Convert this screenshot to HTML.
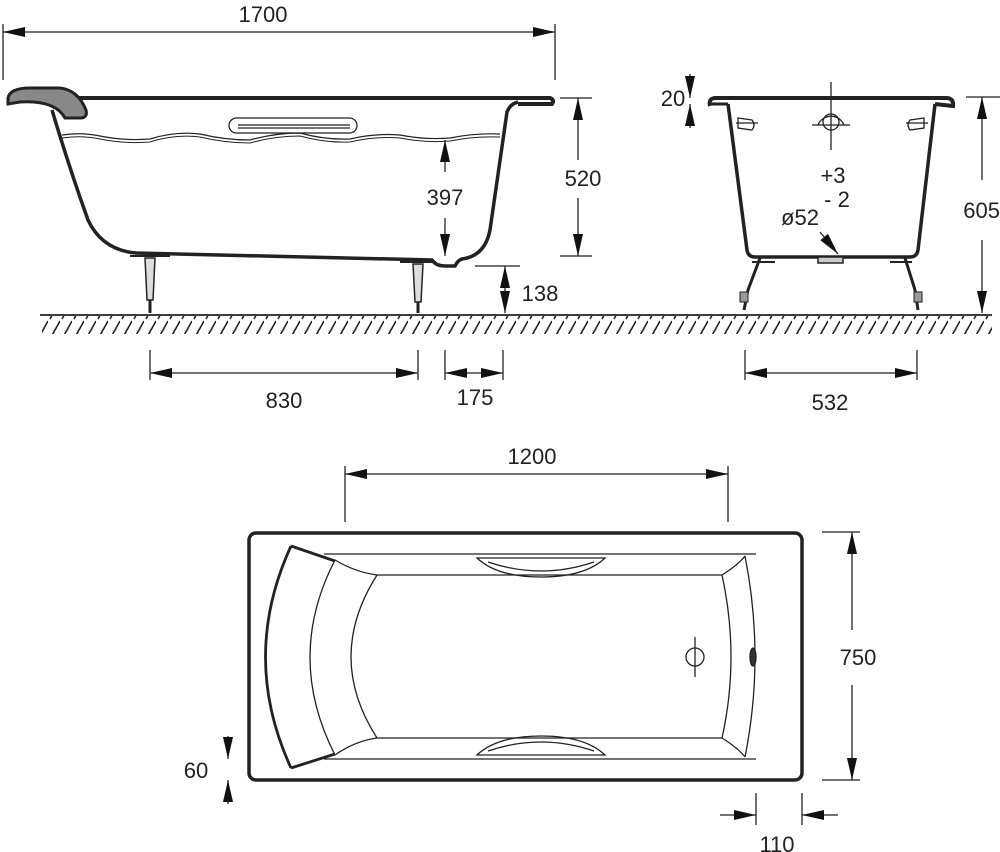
<!DOCTYPE html>
<html><head><meta charset="utf-8"><style>
html,body{margin:0;padding:0;background:#fff;}
svg{display:block;}
text{font-family:"Liberation Sans",Arial,sans-serif;font-size:22px;fill:#222;}
</style></head><body>
<svg width="1000" height="852" viewBox="0 0 1000 852" xmlns="http://www.w3.org/2000/svg">
<defs>
<marker id="a" viewBox="0 0 22 10" refX="22" refY="5" markerWidth="22" markerHeight="10" markerUnits="userSpaceOnUse" orient="auto-start-reverse">
<path d="M0,0 L22,5 L0,10 Z" fill="#111"/></marker>
<pattern id="h" width="12" height="20" patternUnits="userSpaceOnUse">
<line x1="2" y1="19" x2="12" y2="1" stroke="#222" stroke-width="1.6"/></pattern>
</defs>
<g stroke="#222" fill="none" stroke-width="1.3">
<!-- 1700 -->
<line x1="3" y1="32" x2="555" y2="32" marker-start="url(#a)" marker-end="url(#a)"/>
<line x1="3" y1="24" x2="3" y2="80"/><line x1="555" y1="24" x2="555" y2="80"/>
<!-- side tub -->
<path d="M60,98 L550,98 Q555,100 552,104 L518,104" stroke-width="4"/>
<path d="M8,98 Q10,88 30,88 L60,88 Q78,90 86,110 Q88,118 80,118 L65,118 Q55,100 20,102 L8,104 Z" stroke-width="3" fill="#888"/>
<path d="M52,110 Q70,170 88,220 Q102,250 136,253 L432,260 Q436,266 445,266 L455,266 Q458,260 462,259 Q485,256 490,230 L507,112 Q510,104 518,102" stroke-width="3.5"/>
<path d="M62,135 Q81,132 100,136 Q125,141 150,139 Q175,131 200,134 Q225,140 250,140 Q275,133 300,133 Q325,140 350,139 Q375,133 400,135 Q425,140 450,138 Q475,133 500,134" stroke-width="1.2"/>
<path d="M62,138 Q81,135 100,139 Q125,144 150,142 Q175,134 200,137 Q225,143 250,143 Q275,136 300,136 Q325,143 350,142 Q375,136 400,138 Q425,143 450,141 Q475,136 500,137" stroke-width="1"/>
<rect x="229" y="118" width="128" height="15" rx="7.5"/>
<line x1="238" y1="125" x2="350" y2="125"/><line x1="238" y1="128" x2="350" y2="128"/>
<!-- legs side -->
<path d="M145,258 L155,258 L153,300 L147,300 Z" stroke-width="1.5" fill="#ddd"/>
<line x1="150" y1="300" x2="150" y2="313" stroke-width="3"/>
<path d="M413,264 L423,264 L421,302 L415,302 Z" stroke-width="1.5" fill="#ddd"/>
<line x1="418" y1="302" x2="418" y2="313" stroke-width="3"/>
<line x1="130" y1="256" x2="170" y2="256" stroke-width="2"/>
<line x1="400" y1="262" x2="436" y2="262" stroke-width="2"/>
<!-- 397 -->
<line x1="445" y1="140" x2="445" y2="172" marker-start="url(#a)"/>
<line x1="445" y1="218" x2="445" y2="256" marker-end="url(#a)"/>
<!-- 520 -->
<line x1="560" y1="98" x2="592" y2="98"/><line x1="560" y1="256" x2="592" y2="256"/>
<line x1="578" y1="98" x2="578" y2="160" marker-start="url(#a)"/>
<line x1="578" y1="198" x2="578" y2="256" marker-end="url(#a)"/>
<!-- 138 -->
<line x1="475" y1="266" x2="520" y2="266"/>
<line x1="505" y1="266" x2="505" y2="313" marker-start="url(#a)" marker-end="url(#a)"/>
<!-- ground -->
<line x1="40" y1="315" x2="992" y2="315" stroke-width="1.8"/>
<rect x="42" y="316" width="950" height="18" fill="url(#h)" stroke="none"/>
<!-- end view -->
<path d="M710,106 Q708,98 716,98 L946,98 Q954,98 953,106 L935,104" stroke-width="4"/>
<line x1="710" y1="104" x2="728" y2="104" stroke-width="3"/>
<path d="M728,104 L747,250 Q748,257 755,257 L910,257 Q917,257 918,250 L935,104" stroke-width="3.5"/>
<rect x="818" y="257" width="25" height="6" stroke-width="1.5" fill="#ccc"/>
<circle cx="831" cy="122" r="8"/><path d="M818,125 A14,14 0 0 1 844,125"/>
<line x1="831" y1="82" x2="831" y2="150"/><line x1="812" y1="125" x2="850" y2="125"/>
<path d="M738,118 L752,120 Q756,125 752,130 L738,128 Z"/><line x1="736" y1="123" x2="758" y2="123"/>
<path d="M924,118 L910,120 Q906,125 910,130 L924,128 Z"/><line x1="906" y1="123" x2="928" y2="123"/>
<path d="M760,258 L748,290 L744,310" stroke-width="3"/>
<path d="M905,258 L915,290 L918,310" stroke-width="3"/>
<line x1="752" y1="262" x2="775" y2="262" stroke-width="2"/>
<line x1="890" y1="262" x2="912" y2="262" stroke-width="2"/>
<rect x="740" y="292" width="8" height="10" fill="#999" stroke-width="1"/>
<rect x="914" y="292" width="8" height="10" fill="#999" stroke-width="1"/>
<line x1="820" y1="232" x2="838" y2="254" marker-end="url(#a)"/>
<!-- 20 -->
<line x1="690" y1="74" x2="690" y2="98" marker-end="url(#a)"/>
<line x1="690" y1="128" x2="690" y2="104" marker-end="url(#a)"/>
<!-- 605 -->
<line x1="966" y1="97" x2="1000" y2="97"/>
<line x1="982" y1="97" x2="982" y2="180" marker-start="url(#a)"/>
<line x1="982" y1="240" x2="982" y2="313" marker-end="url(#a)"/>
<!-- 830 / 175 / 532 -->
<line x1="150" y1="350" x2="150" y2="380"/><line x1="418" y1="350" x2="418" y2="380"/>
<line x1="150" y1="373" x2="418" y2="373" marker-start="url(#a)" marker-end="url(#a)"/>
<line x1="445" y1="350" x2="445" y2="380"/><line x1="503" y1="350" x2="503" y2="380"/>
<line x1="445" y1="373" x2="503" y2="373" marker-start="url(#a)" marker-end="url(#a)"/>
<line x1="745" y1="350" x2="745" y2="380"/><line x1="917" y1="350" x2="917" y2="380"/>
<line x1="745" y1="373" x2="917" y2="373" marker-start="url(#a)" marker-end="url(#a)"/>
<!-- 1200 -->
<line x1="345" y1="466" x2="345" y2="522"/><line x1="728" y1="466" x2="728" y2="522"/>
<line x1="345" y1="474" x2="728" y2="474" marker-start="url(#a)" marker-end="url(#a)"/>
<!-- plan -->
<rect x="249" y="533" width="553" height="247" rx="7" stroke-width="3.5"/>
<line x1="324" y1="554" x2="756" y2="554"/><line x1="324" y1="759" x2="756" y2="759"/>
<line x1="377" y1="575" x2="722" y2="575"/><line x1="377" y1="738" x2="722" y2="738"/>
<path d="M291,546 Q240,657 291,768" stroke-width="2.8"/>
<line x1="291" y1="546" x2="335" y2="561" stroke-width="2.8"/>
<line x1="291" y1="768" x2="335" y2="754" stroke-width="2.8"/>
<path d="M335,560 Q285,657 335,755"/>
<path d="M377,575 Q325,657 377,738"/>
<path d="M335,560 Q355,572 377,575"/><path d="M335,755 Q355,741 377,738"/>
<path d="M722,575 Q738,565 745,556"/><path d="M722,738 Q738,748 745,757"/>
<path d="M745,556 Q765,657 745,757"/>
<path d="M722,575 Q740,657 722,738"/>
<path d="M477,558 L605,558 Q585,577 541,577 Q497,577 477,558 Z"/>
<path d="M488,562 Q541,580 594,562"/>
<path d="M477,755 L605,755 Q585,736 541,736 Q497,736 477,755 Z"/>
<path d="M488,751 Q541,733 594,751"/>
<circle cx="695" cy="657" r="9"/><line x1="695" y1="637" x2="695" y2="677"/>
<ellipse cx="753" cy="657" rx="3" ry="9" fill="#333"/>
<!-- 750 -->
<line x1="822" y1="532" x2="860" y2="532"/><line x1="822" y1="780" x2="860" y2="780"/>
<line x1="852" y1="532" x2="852" y2="630" marker-start="url(#a)"/>
<line x1="852" y1="685" x2="852" y2="780" marker-end="url(#a)"/>
<!-- 60 -->
<line x1="228" y1="736" x2="228" y2="759" marker-end="url(#a)"/>
<line x1="228" y1="804" x2="228" y2="780" marker-end="url(#a)"/>
<!-- 110 -->
<line x1="756" y1="793" x2="756" y2="825"/><line x1="802" y1="793" x2="802" y2="825"/>
<line x1="720" y1="815" x2="756" y2="815" marker-end="url(#a)"/>
<line x1="838" y1="815" x2="802" y2="815" marker-end="url(#a)"/>
</g>
<g stroke="none">
<text x="263" y="22" text-anchor="middle">1700</text>
<text x="445" y="205" text-anchor="middle">397</text>
<text x="583" y="186" text-anchor="middle">520</text>
<text x="540" y="301" text-anchor="middle">138</text>
<text x="284" y="408" text-anchor="middle">830</text>
<text x="475" y="405" text-anchor="middle">175</text>
<text x="830" y="410" text-anchor="middle">532</text>
<text x="673" y="106" text-anchor="middle">20</text>
<text x="1000" y="218" text-anchor="end">605</text>
<text x="833" y="183" text-anchor="middle">+3</text>
<text x="837" y="207" text-anchor="middle">- 2</text>
<text x="800" y="225" text-anchor="middle">ø52</text>
<text x="532" y="464" text-anchor="middle">1200</text>
<text x="858" y="665" text-anchor="middle">750</text>
<text x="196" y="778" text-anchor="middle">60</text>
<text x="777" y="852" text-anchor="middle">110</text>
</g>
</svg>
</body></html>
